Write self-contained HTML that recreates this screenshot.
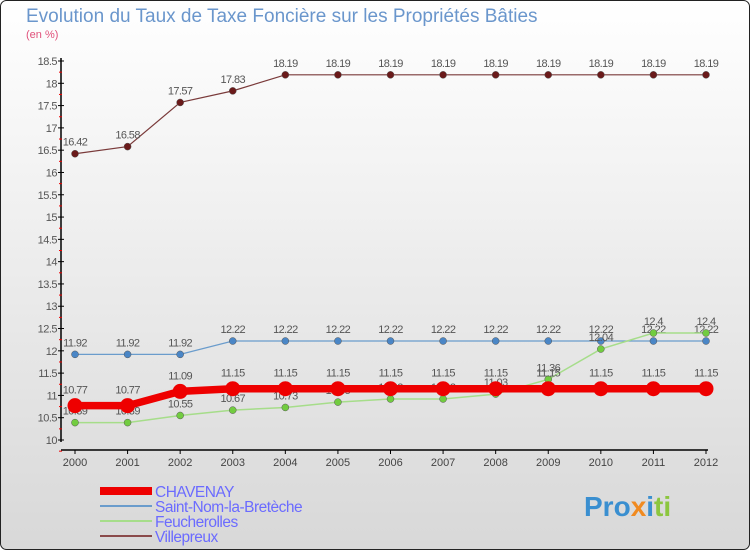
<!DOCTYPE html>
<html><head><meta charset="utf-8"><style>
body{margin:0;width:750px;height:550px;overflow:hidden;font-family:"Liberation Sans",sans-serif}
</style></head><body>
<svg width="750" height="550" xmlns="http://www.w3.org/2000/svg" font-family="Liberation Sans, sans-serif">
<defs><linearGradient id="bg" x1="0" y1="0" x2="0" y2="1"><stop offset="0" stop-color="#ffffff"/><stop offset="1" stop-color="#d8d8d8"/></linearGradient></defs>
<rect x="0.5" y="0.5" width="749" height="549" rx="6" fill="url(#bg)" stroke="#222"/>
<text x="26" y="22" font-size="19" fill="#6a96cc">Evolution du Taux de Taxe Foncière sur les Propriétés Bâties</text>
<text x="26" y="38" font-size="11" fill="#e0507a">(en %)</text>
<g id="axes"></g><g id="series"></g><g id="legend"></g>
<text x="584" y="516" font-size="28" font-weight="bold"><tspan fill="#3a8fd0">Pro</tspan><tspan fill="#f08a20">x</tspan><tspan fill="#3a8fd0">i</tspan><tspan fill="#8cc63f">ti</tspan></text>
</svg>
<script>
const years=[2000,2001,2002,2003,2004,2005,2006,2007,2008,2009,2010,2011,2012];
const yTicks=[10,10.5,11,11.5,12,12.5,13,13.5,14,14.5,15,15.5,16,16.5,17,17.5,18,18.5];
const chavenay=[10.77,10.77,11.09,11.15,11.15,11.15,11.15,11.15,11.15,11.15,11.15,11.15,11.15];
const saintNom=[11.92,11.92,11.92,12.22,12.22,12.22,12.22,12.22,12.22,12.22,12.22,12.22,12.22];
const feucherolles=[10.39,10.39,10.55,10.67,10.73,10.85,10.92,10.92,11.03,11.36,12.04,12.4,12.4];
const villepreux=[16.42,16.58,17.57,17.83,18.19,18.19,18.19,18.19,18.19,18.19,18.19,18.19,18.19];
const NS="http://www.w3.org/2000/svg";
const X=i=>75+i*(706-75)/12;
const Y=v=>440-(v-10)*(379/8.5);
function mk(tag,attrs,parent,text){const e=document.createElementNS(NS,tag);for(const k in attrs)e.setAttribute(k,attrs[k]);if(text!==undefined)e.textContent=text;parent.appendChild(e);return e;}
const ax=document.getElementById('axes');
let e=mk('line',{x1:61,y1:58,x2:61,y2:442,stroke:'#000','stroke-width':1.5},ax);


e=mk('line',{x1:61,y1:450,x2:708,y2:450,stroke:'#000','stroke-width':1.5},ax);


yTicks.forEach(v=>{const y=Y(v);
mk('line',{x1:58,y1:y,x2:64,y2:y,stroke:'#000'},ax);
mk('line',{x1:59,y1:y+11.15,x2:62,y2:y+11.15,stroke:'#e00'},ax);
e=mk('text',{x:57,y:y+4,'font-size':11,'text-anchor':'end',fill:'#555','letter-spacing':'-0.5'},ax,String(v));

});
years.forEach((yr,i)=>{const x=X(i);
mk('line',{x1:x,y1:450,x2:x,y2:454,stroke:'#000'},ax);
e=mk('text',{x:x,y:466,'font-size':11,'text-anchor':'middle',fill:'#444'},ax,String(yr));

});
const sg=document.getElementById('series');
const defs=[
{name:'villepreux',data:villepreux,c:'#7a3a3a',dot:'#6a1a1a',w:1.2,r:3.5,lo:-8},
{name:'saint-nom',data:saintNom,c:'#6a9ccc',dot:'#4a86c6',w:1.2,r:3.5,lo:-8},
{name:'feucherolles',data:feucherolles,c:'#a6dd8a',dot:'#72cc40',w:1.5,r:3.5,lo:-8},
{name:'chavenay',data:chavenay,c:'#ee0000',dot:'#ee0000',w:7.5,r:7.5,lo:-12}];
defs.forEach(s=>{const g=mk('g',{},sg);


mk('polyline',{points:s.data.map((v,i)=>X(i)+','+Y(v)).join(' '),fill:'none',stroke:s.c,'stroke-width':s.w},g);
s.data.forEach((v,i)=>{const p=mk('circle',{cx:X(i),cy:Y(v),r:s.r,fill:s.dot,stroke:s.r>5?'none':'#555','stroke-width':0.5},g);


const t=mk('text',{x:X(i),y:Y(v)+s.lo,'font-size':11,'text-anchor':'middle',fill:'#555','letter-spacing':'-0.6'},g,String(v));

});});
const lg=document.getElementById('legend');
[['CHAVENAY','#ee0000',8],['Saint-Nom-la-Bretèche','#6a9ccc',2],['Feucherolles','#a6dd8a',2],['Villepreux','#8a4a4a',2]].forEach((d,i)=>{const y=491+i*15;
const g=mk('g',{},lg);


mk('line',{x1:100,y1:y,x2:152,y2:y,stroke:d[1],'stroke-width':d[2]},g);
mk('text',{x:155,y:y+6,'font-size':15.5,fill:'#6b6bff','letter-spacing':'-0.5'},g,d[0]);});
</script>
</body></html>
